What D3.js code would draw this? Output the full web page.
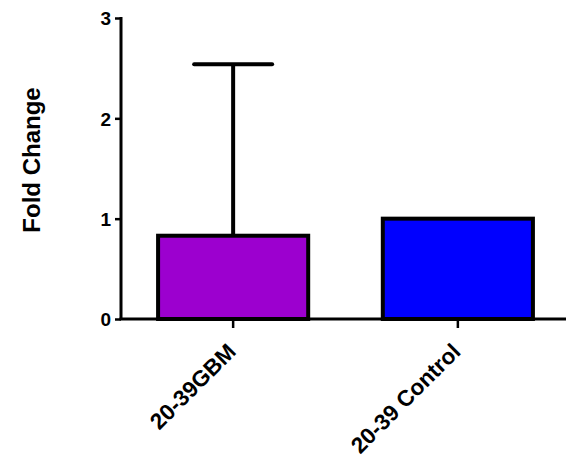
<!DOCTYPE html>
<html>
<head>
<meta charset="utf-8">
<script src="https://cdn.jsdelivr.net/npm/d3@7"></script>
<style>
  html, body { margin: 0; padding: 0; background: #fff; }
  svg { display: block; }
  text { font-family: Arial, "Liberation Sans", sans-serif; font-weight: bold; fill: #000; }
</style>
</head>
<body>
<svg id="chart" width="566" height="463"></svg>
<script>
// Groups, means and upper error extents
const categories = ["20-39GBM", "20-39 Control"];
const means = [0.83, 1.0];
const errorTops = [2.54, null];
const barColors = ["#9C00CF", "#0000FF"];
const yTicks = [0, 1, 2, 3];

const svg = d3.select("#chart");
const x0 = 121, yBase = 319, yTop = 18;

const y = d3.scaleLinear().domain([0, 3]).range([yBase, yTop]);
const x = d3.scaleBand().domain(categories).range([x0, 570])
  .paddingInner(0.332).paddingOuter(0.165);

// Bars
svg.selectAll("rect.bar").data(categories).join("rect")
  .attr("class", "bar")
  .attr("x", d => x(d))
  .attr("width", x.bandwidth())
  .attr("y", (d, i) => y(means[i]))
  .attr("height", (d, i) => y(0) - y(means[i]))
  .attr("fill", (d, i) => barColors[i])
  .attr("stroke", "#000")
  .attr("stroke-width", 4);

// Error bars (upper only)
categories.forEach((c, i) => {
  if (errorTops[i] == null) return;
  const cx = x(c) + x.bandwidth() / 2;
  svg.append("line")
    .attr("x1", cx).attr("x2", cx)
    .attr("y1", y(means[i])).attr("y2", y(errorTops[i]))
    .attr("stroke", "#000").attr("stroke-width", 4);
  svg.append("line")
    .attr("x1", cx - 39).attr("x2", cx + 39)
    .attr("y1", y(errorTops[i])).attr("y2", y(errorTops[i]))
    .attr("stroke", "#000").attr("stroke-width", 4).attr("stroke-linecap", "round");
});

// Y axis
const yAxis = svg.append("g").attr("transform", `translate(${x0},0)`)
  .call(d3.axisLeft(y).tickValues(yTicks).tickFormat(d3.format("d")).tickSize(6).tickPadding(4));
yAxis.select(".domain").remove();
yAxis.selectAll(".tick line").attr("stroke", "#000").attr("stroke-width", 2.5);
yAxis.selectAll(".tick text").attr("font-size", 19).attr("dy", "0.36em");
svg.append("line").attr("x1", x0).attr("x2", x0).attr("y1", yTop - 1).attr("y2", yBase + 1)
  .attr("stroke", "#000").attr("stroke-width", 3);

// X axis
const xAxis = svg.append("g").attr("transform", `translate(0,${yBase})`)
  .call(d3.axisBottom(x).tickSize(9).tickPadding(0));
xAxis.select(".domain").remove();
xAxis.selectAll(".tick line").attr("stroke", "#000").attr("stroke-width", 2.5);
xAxis.selectAll(".tick text")
  .attr("font-size", 22.5)
  .attr("text-anchor", "end")
  .attr("x", 0).attr("y", 0)
  .attr("dy", null)
  .attr("transform", "translate(4,34) rotate(-45)");
svg.append("line").attr("x1", x0 - 1.5).attr("x2", 566).attr("y1", yBase).attr("y2", yBase)
  .attr("stroke", "#000").attr("stroke-width", 3);

// Y axis title
svg.append("text")
  .attr("transform", "translate(40,160) rotate(-90)")
  .attr("text-anchor", "middle")
  .attr("font-size", 24)
  .text("Fold Change");
</script>
</body>
</html>
